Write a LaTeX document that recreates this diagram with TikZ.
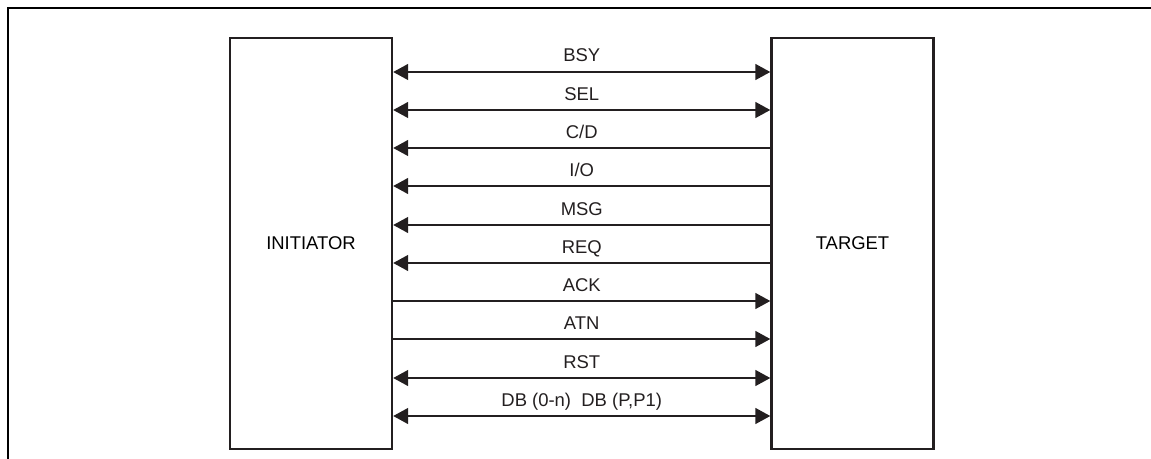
\documentclass[tikz,border=0pt]{standalone}
\usepackage{fontspec}
\setmainfont{Liberation Sans}
\usetikzlibrary{arrows.meta}
\definecolor{ink}{RGB}{35,31,32}

\begin{document}
\begin{tikzpicture}[x=0.02cm, y=-0.02cm, font=\fontsize{10.5}{12}\selectfont,
    >={Triangle[length=0.3cm,width=0.32cm]},
    unit/.style={draw=ink, line width=1.4pt, minimum width=3.24cm, minimum height=8.22cm},
    sig/.style={draw=ink, line width=0.85pt},
    lbl/.style={midway, anchor=base, yshift=0.2cm, text=ink}]

    % Page size and frame (only top and left edges show)
    \useasboundingbox (0,0) rectangle (1151,459);
    \draw[line width=0.6pt] (1151,8) -- (8,8) -- (8,459);

    % The two units on the bus
    \node[unit] (ini) at (311,243.5) {INITIATOR};
    \node[unit] (tgt) at (852.5,243.5) {TARGET};

    % Signals driven both ways
    \foreach \y/\name in {72/BSY, 110/SEL, 378/RST, 416/{DB (0-n)\ \ DB (P,P1)}}
        \draw[sig, <->] (ini.east |- 0,\y) -- node[lbl] {\name} (tgt.west |- 0,\y);

    % Signals from target to initiator
    \foreach \y/\name in {148/{C/D}, 186/{I/O}, 225/MSG, 263/REQ}
        \draw[sig, <-] (ini.east |- 0,\y) -- node[lbl] {\name} (tgt.west |- 0,\y);

    % Signals from initiator to target
    \foreach \y/\name in {301/ACK, 339/ATN}
        \draw[sig, ->] (ini.east |- 0,\y) -- node[lbl] {\name} (tgt.west |- 0,\y);

\end{tikzpicture}
\end{document}
